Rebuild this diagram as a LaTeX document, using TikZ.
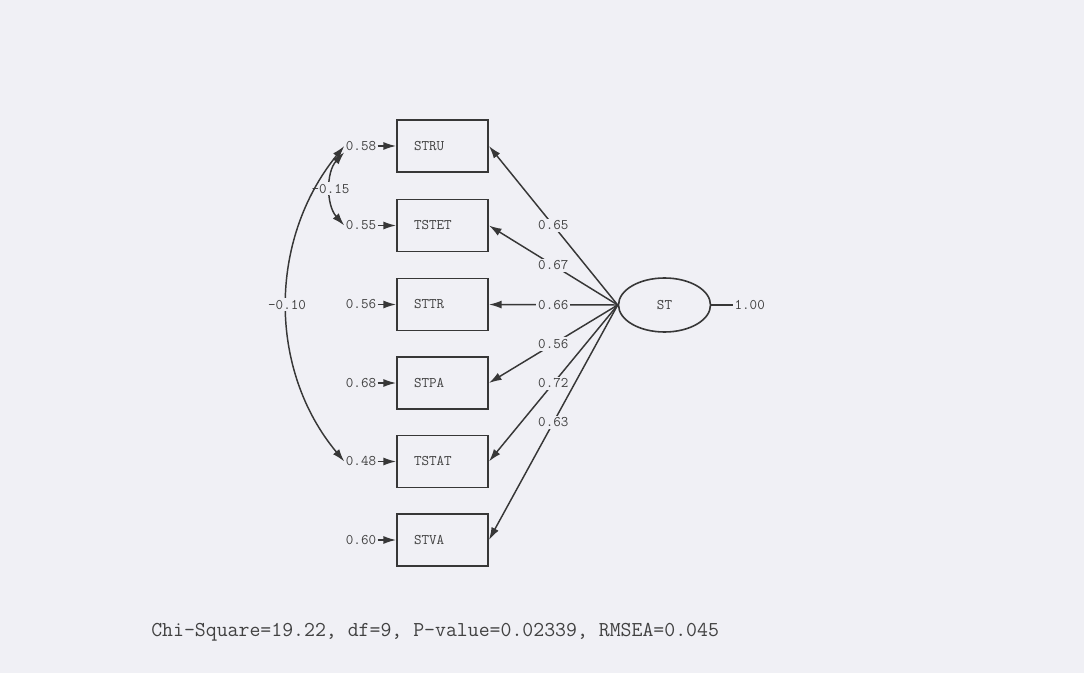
\documentclass[tikz,border=0pt]{standalone}
\usepackage{fontspec}
\usetikzlibrary{arrows.meta,shapes.geometric}
\definecolor{bg}{RGB}{240,240,245}
\definecolor{ink}{RGB}{55,55,55}
\definecolor{txt}{RGB}{65,65,65}
\begin{document}
\begin{tikzpicture}[x=0.75pt,y=-0.75pt,
  obs/.style={draw=ink, line width=1.4pt, rectangle, minimum width=68.25pt, minimum height=39pt,
    inner xsep=12.75pt, text width=42.75pt, align=left,
    font=\ttfamily\fontsize{11}{13}\selectfont, text=txt},
  lat/.style={draw=ink, line width=1.2pt, ellipse, minimum width=69pt, minimum height=40.5pt,
    inner sep=0pt, font=\ttfamily\fontsize{11}{13}\selectfont, text=txt},
  val/.style={font=\ttfamily\fontsize{11}{13}\selectfont, text=txt, inner sep=1pt},
  lab/.style={val, fill=bg, inner sep=1.5pt},
  arr/.style={draw=ink, line width=1.1pt, -{Latex[length=9.5pt,width=6pt]}},
  darr/.style={draw=ink, line width=1.1pt, {Latex[length=9.5pt,width=6pt]}-{Latex[length=9.5pt,width=6pt]}},
  plain/.style={draw=ink, line width=1.1pt},
  fit/.style={font=\ttfamily\fontsize{15.9}{18}\selectfont, text=txt, inner sep=0pt}
]
\fill[bg] (0,0) rectangle (1084,673);
\useasboundingbox (0,0) rectangle (1084,673);

% observed variables
\node[obs] (stru)  at (442.5,146)   {STRU};
\node[obs] (tstet) at (442.5,225.5) {TSTET};
\node[obs] (sttr)  at (442.5,304.5) {STTR};
\node[obs] (stpa)  at (442.5,383)   {STPA};
\node[obs] (tstat) at (442.5,461.5) {TSTAT};
\node[obs] (stva)  at (442.5,540)   {STVA};

% error variances
\node[val] (e1) at (361,146)   {0.58};
\node[val] (e2) at (361,225.5) {0.55};
\node[val] (e3) at (361,304.5) {0.56};
\node[val] (e4) at (361,383)   {0.68};
\node[val] (e5) at (361,461.5) {0.48};
\node[val] (e6) at (361,540)   {0.60};
\foreach \e/\b in {e1/stru,e2/tstet,e3/sttr,e4/stpa,e5/tstat,e6/stva}
  \draw[arr] (\e.east) -- (\b.west);

% latent variable
\node[lat] (st) at (664.5,305) {ST};
\node[val, anchor=west] (one) at (733,305) {1.00};
\draw[plain] (st.east) -- (one.west);

% loadings
\draw[arr] (st.west) -- node[lab, pos=0.5] {0.65} (stru.east);
\draw[arr] (st.west) -- node[lab, pos=0.5] {0.67} (tstet.east);
\draw[arr] (st.west) -- node[lab, pos=0.5] {0.66} (sttr.east);
\draw[arr] (st.west) -- node[lab, pos=0.5] {0.56} (stpa.east);
\draw[arr] (st.west) -- node[lab, pos=0.5] {0.72} (tstat.east);
\draw[arr] (st.west) -- node[lab, pos=0.5] {0.63} (stva.east);

% error covariances
\draw[darr] (e1.south west) .. controls (326,172) and (326,205) .. node[lab, pos=0.5] {-0.15} (e2.west);
\draw[darr] (e1.west) .. controls (268,240) and (268,370) .. node[lab, pos=0.5] {-0.10} (e5.west);

% fit statistics
\node[fit, anchor=base west] (chi) at (151,636) {Chi-Square=19.22, df=9, P-value=0.02339, RMSEA=0.045};
\end{tikzpicture}
\end{document}
